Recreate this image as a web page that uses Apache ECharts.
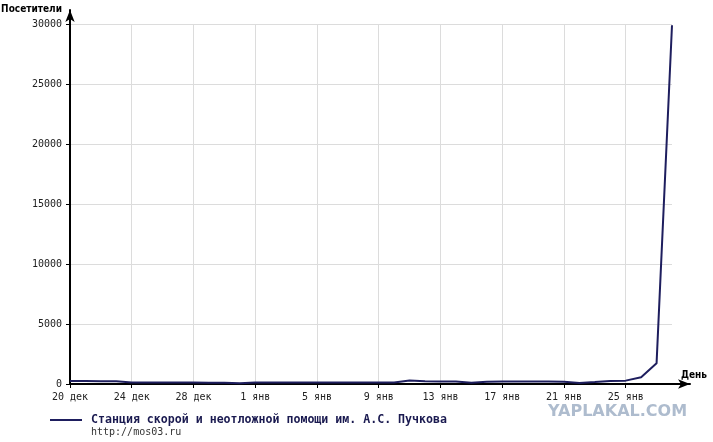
<!DOCTYPE html>
<html>
<head>
<meta charset="utf-8">
<script src="https://cdn.jsdelivr.net/npm/echarts@6/dist/echarts.min.js"></script>
<style>html,body{margin:0;padding:0;background:#fff}#c{width:713px;height:442px}</style>
</head>
<body>
<div id="c"></div>
<script>
const days = ['20 дек','21 дек','22 дек','23 дек','24 дек','25 дек','26 дек','27 дек','28 дек','29 дек','30 дек','31 дек',
  '1 янв','2 янв','3 янв','4 янв','5 янв','6 янв','7 янв','8 янв','9 янв','10 янв','11 янв','12 янв','13 янв','14 янв',
  '15 янв','16 янв','17 янв','18 янв','19 янв','20 янв','21 янв','22 янв','23 янв','24 янв','25 янв','26 янв','27 янв','28 янв'];
const visitors = [250,240,230,220,130,120,120,120,120,110,100,60,
  120,120,120,120,120,120,120,120,120,130,300,220,200,200,
  100,180,200,200,200,200,190,80,160,250,280,560,1720,29900];
const seriesName = 'Станция скорой и неотложной помощи им. А.С. Пучкова';
const subtitle = 'http://mos03.ru';
const yMax = 30000, yStep = 5000;

const chart = echarts.init(document.getElementById('c'));
const mono = '"DejaVu Sans Mono", monospace';
const cond = '"DejaVu Sans Condensed", "DejaVu Sans"';
chart.setOption({
  animation: false,
  backgroundColor: '#fff',
  grid: [
    {left: 70, right: 41, top: 24, bottom: 58, containLabel: false, outerBoundsMode: 'none'},
    {left: 70, right: 23, top: 10, bottom: 58, containLabel: false, outerBoundsMode: 'none'}
  ],
  legend: {
    left: 50, top: 414, padding: 0, itemWidth: 32, itemHeight: 2, icon: 'rect',
    data: [seriesName],
    textStyle: {fontFamily: mono, fontWeight: 'bold', fontSize: 11.6, color: '#1a1a50', padding: [0,0,0,4]}
  },
  xAxis: [
    {
      gridIndex: 0, type: 'category', data: days, boundaryGap: false,
      axisLine: {show: false},
      axisTick: {show: true, interval: 3, length: 4, lineStyle: {color: '#000'}},
      axisLabel: {interval: 3, fontFamily: mono, fontSize: 10, color: '#222', margin: 8},
      splitLine: {show: true, interval: 3, lineStyle: {color: '#dcdcdc', width: 1}}
    },
    {
      gridIndex: 1, type: 'value', min: 0, max: 1,
      axisLine: {show: true, lineStyle: {color: '#000', width: 2}, symbol: ['none','arrow'], symbolSize: [7, 12]},
      axisTick: {show: false}, axisLabel: {show: false}, splitLine: {show: false},
      name: 'День', nameLocation: 'end', nameGap: 4,
      nameTextStyle: {fontFamily: cond, fontWeight: 'bold', fontSize: 10, color: '#000', align: 'center', verticalAlign: 'bottom', padding: [0,0,4,0]}
    }
  ],
  yAxis: [
    {
      gridIndex: 0, type: 'value', min: 0, max: yMax, interval: yStep,
      axisLine: {show: false},
      axisTick: {show: true, length: 4, lineStyle: {color: '#000'}},
      axisLabel: {fontFamily: mono, fontSize: 10, color: '#222', margin: 8, formatter: v => String(v)},
      splitLine: {show: true, lineStyle: {color: '#dcdcdc', width: 1}}
    },
    {
      gridIndex: 1, type: 'value', min: 0, max: 1,
      axisLine: {show: true, lineStyle: {color: '#000', width: 2}, symbol: ['none','arrow'], symbolSize: [7, 12]},
      axisTick: {show: false}, axisLabel: {show: false}, splitLine: {show: false},
      name: 'Посетители', nameLocation: 'end', nameGap: 1,
      nameTextStyle: {fontFamily: cond, fontWeight: 'bold', fontSize: 10, color: '#000', align: 'right', verticalAlign: 'middle', padding: [0,8,0,0]}
    }
  ],
  series: [{
    name: seriesName, type: 'line', xAxisIndex: 0, yAxisIndex: 0,
    data: visitors, showSymbol: false, symbol: 'none',
    lineStyle: {color: '#1e1e5e', width: 2},
    itemStyle: {color: '#1e1e5e'}
  }],
  graphic: [
    {type: 'text', left: 91, top: 427, style: {text: subtitle, font: '10px "DejaVu Sans Mono"', fill: '#333'}},
    {type: 'text', left: 548, top: 404, style: {text: 'YAPLAKAL.COM', font: 'bold 16px "DejaVu Sans"', fill: '#aebcce'}}
  ]
});
</script>
</body>
</html>
